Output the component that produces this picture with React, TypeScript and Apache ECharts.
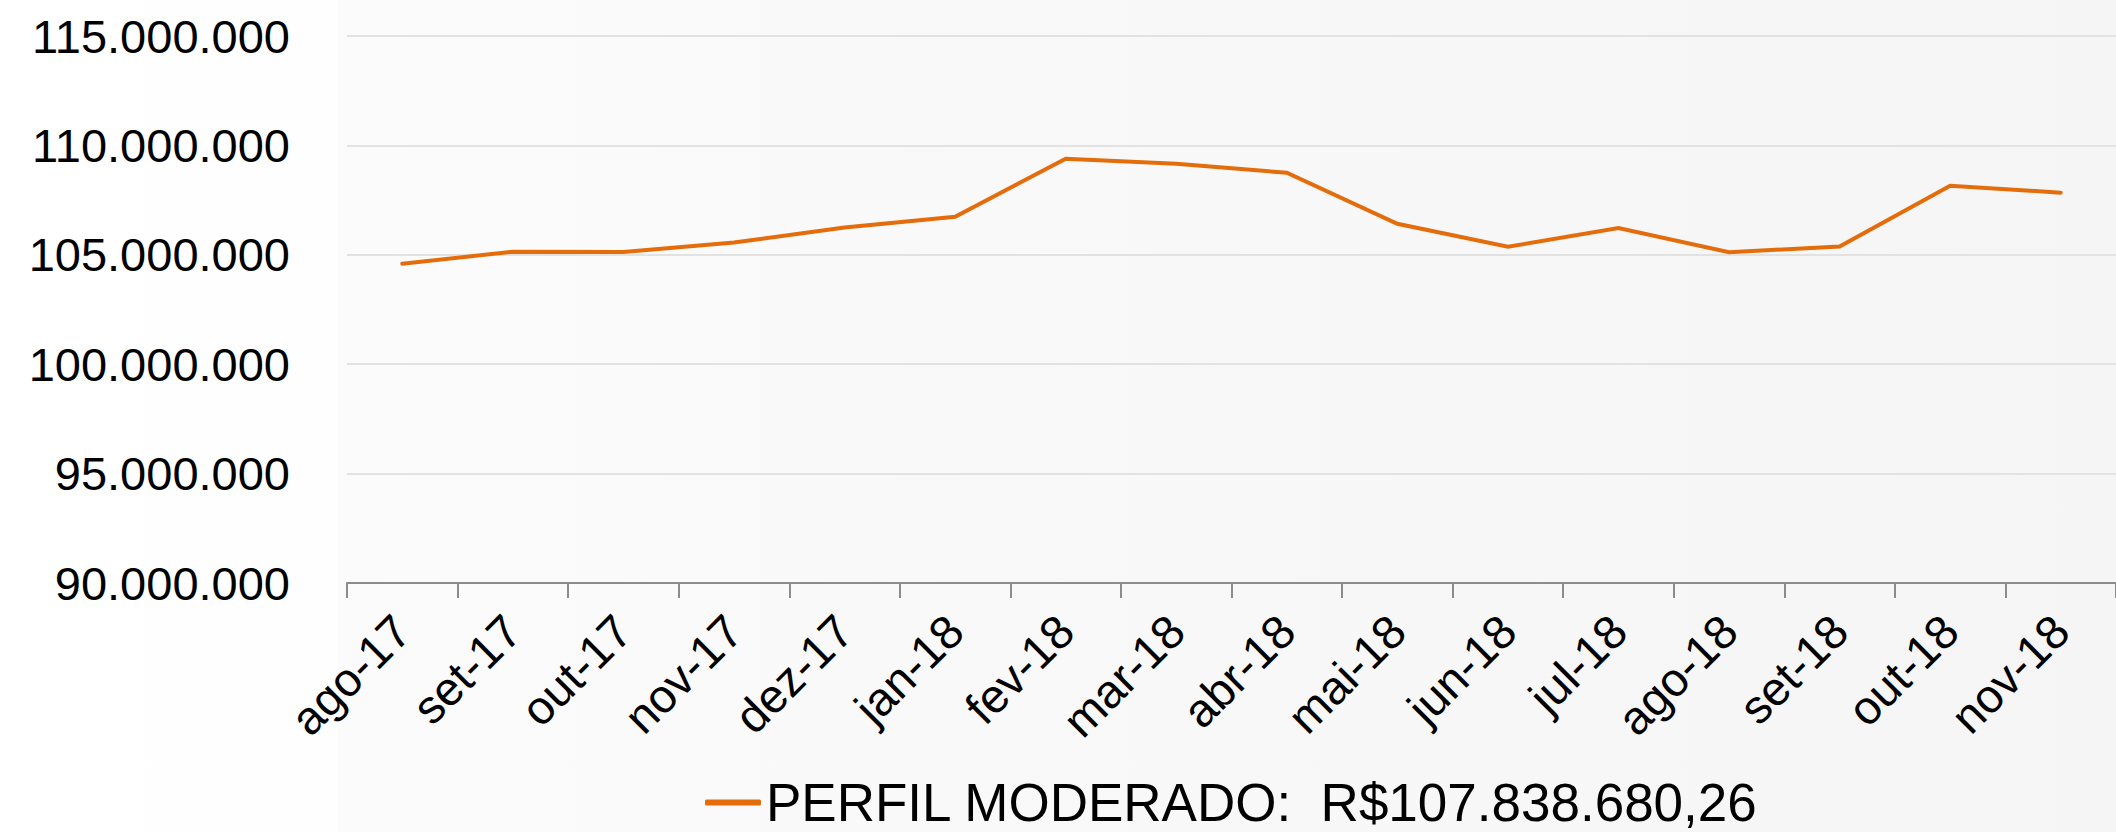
import React, { useEffect, useRef } from "react";
import * as echarts from "echarts";

const categories = [
  "ago-17", "set-17", "out-17", "nov-17", "dez-17", "jan-18", "fev-18", "mar-18",
  "abr-18", "mai-18", "jun-18", "jul-18", "ago-18", "set-18", "out-18", "nov-18",
];

const values = [
  104590000, 105140000, 105130000, 105560000, 106250000, 106740000, 109390000, 109160000,
  108750000, 106420000, 105370000, 106220000, 105120000, 105380000, 108160000, 107838680.26,
];

const seriesName = "PERFIL MODERADO";
const lastValueLabel = "R$107.838.680,26";

const yMin = 90000000;
const yMax = 115000000;
const yStep = 5000000;

const fmtThousands = (v: number) =>
  String(Math.round(v)).replace(/\B(?=(\d{3})+(?!\d))/g, ".");

export default function App() {
  const ref = useRef<HTMLDivElement>(null);

  useEffect(() => {
    if (!ref.current) return;
    const chart = echarts.init(ref.current, undefined, { renderer: "svg" });
    const font = "'Liberation Sans', Arial, sans-serif";
    chart.setOption({
      animation: false,
      backgroundColor: {
        type: "linear",
        x: 0, y: 0, x2: 1, y2: 0,
        colorStops: [
          { offset: 0, color: "#ffffff" },
          { offset: 0.159, color: "#fefefe" },
          { offset: 0.16, color: "#fbfbfb" },
          { offset: 1, color: "#f5f5f5" },
        ],
      },
      textStyle: { fontFamily: font },
      grid: { left: 347, top: 36, width: 1783, height: 547, containLabel: false },
      legend: {
        show: true,
        left: 700,
        top: 771,
        icon: "roundRect",
        itemWidth: 56,
        itemHeight: 6,
        textStyle: { fontFamily: font, fontSize: 53, color: "#000" },
        formatter: (name: string) => name + ":  " + lastValueLabel,
        data: [seriesName],
      },
      xAxis: {
        type: "category",
        data: categories,
        boundaryGap: true,
        axisLine: { show: true, lineStyle: { color: "#8c8c8c", width: 2 } },
        axisTick: { show: true, length: 15, interval: 0, lineStyle: { color: "#8c8c8c", width: 2 } },
        axisLabel: {
          interval: 0,
          rotate: 45,
          margin: 40,
          fontSize: 47,
          color: "#000",
          fontFamily: font,
        },
        splitLine: { show: false },
      },
      yAxis: {
        type: "value",
        min: yMin,
        max: yMax,
        interval: yStep,
        axisLine: { show: false },
        axisTick: { show: false },
        axisLabel: {
          margin: 57,
          fontSize: 47,
          color: "#000",
          fontFamily: font,
          formatter: (v: number) => fmtThousands(v),
        },
        splitLine: { show: true, lineStyle: { color: "#e2e2e2", width: 2 } },
      },
      series: [
        {
          name: seriesName,
          type: "line",
          data: values,
          symbol: "none",
          showSymbol: false,
          lineStyle: { color: "#E46C0A", width: 4, cap: "round", join: "miter" },
          itemStyle: { color: "#E46C0A" },
        },
      ],
    });
    return () => chart.dispose();
  }, []);

  return (
    <div
      ref={ref}
      style={{ position: "fixed", left: 0, top: 0, width: 2116, height: 832 }}
    />
  );
}
